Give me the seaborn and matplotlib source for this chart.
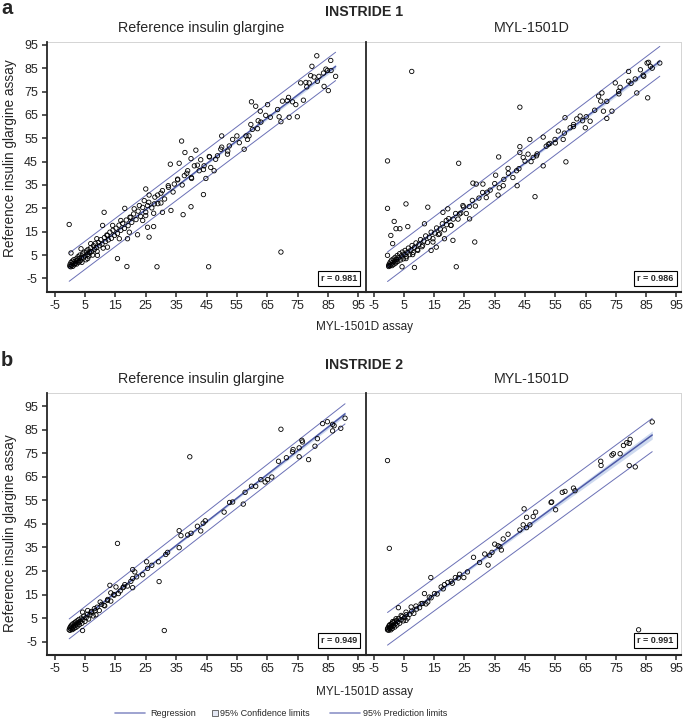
import numpy as np
import matplotlib
matplotlib.use("Agg")
import matplotlib.pyplot as plt
from matplotlib.lines import Line2D
from matplotlib.patches import Rectangle
import seaborn as sns

# points: (MYL-1501D assay, reference insulin glargine assay)
# INSTRIDE 1 - reference insulin glargine
a1_pts = [(81.3,90.3),(85.9,88.3),(79.7,85.8),(84.3,84.6),(84.8,84.0),(83.5,82.9),(79.3,81.8),(80.4,81.2),
    (87.5,81.5),(77.7,78.9),(78.8,78.7),(76.0,78.7),(83.7,77.2),(85.1,75.4),(81.5,79.4),
    (59.8,70.6),(65.1,69.4),(70.0,70.9),(73.3,70.6),(71.6,71.1),(74.4,69.4),(76.9,71.3),(68.4,67.3),
    (61.2,68.7),(62.7,66.6),(64.5,64.8),(68.9,64.2),(69.5,62.1),(72.2,64.0),(74.9,64.2),(62.9,61.9),
    (59.6,60.9),(60.1,58.8),(61.8,59.1),(59.0,56.0),(58.5,54.5),(57.4,50.3),(55.8,53.1),(53.6,54.5),
    (50.0,56.0),(52.5,51.7),(49.7,50.3),(51.9,48.2),(48.6,47.5),(45.9,47.2),(43.1,45.8),(41.5,49.9),
    (36.8,53.8),(37.9,48.9),(39.9,46.3),(36.0,44.3),(33.1,43.9),(41.0,43.2),(44.2,43.2),(46.4,42.5),
    (47.5,41.1),(42.6,41.1),(38.8,41.1),(37.7,39.0),(35.5,37.5),(34.4,35.4),(40.1,37.8),(44.8,37.8),
    (30.5,32.6),(32.4,34.7),(25.0,33.3),(26.1,30.7),(28.9,30.7),(27.8,26.9),(30.0,27.3),(24.5,28.3),
    (25.6,26.2),(22.9,26.2),(21.2,24.8),(18.1,25.0),(33.3,24.1),(30.5,23.3),(27.6,22.9),(44.0,30.9),
    (39.9,25.7),(37.3,22.3),(11.3,23.3),(10.8,17.7),(14.1,17.7),(16.8,19.8),(20.1,21.2),(24.0,19.8),
    (25.0,21.9),(27.6,17.2),(25.6,16.9),(26.1,12.7),(22.3,13.7),(19.6,14.8),(19.0,12.0),(16.3,12.0),
    (12.4,13.4),(8.9,12.0),(6.9,9.9),(0.4,5.9),(3.7,7.7),(6.4,6.3),(9.1,4.9),(12.4,8.4),(15.7,3.5),
    (18.8,0.1),(28.7,0.0),(45.7,0.0),(69.5,6.3),(-0.2,18.1),(5.9,3.5),(3.1,2.1),
    (0.0,0.3),(0.1,1.0),(0.3,0.0),(0.4,1.8),(0.6,0.6),(0.8,2.4),(1.0,0.2),(1.1,1.4),(1.3,3.0),(1.5,0.9),
    (1.7,2.2),(1.9,1.5),(2.1,3.4),(2.3,1.2),(2.5,2.8),(2.7,4.3),(2.9,2.0),(3.1,3.6),(3.3,5.0),(3.5,2.6),
    (3.8,4.0),(4.0,1.9),(4.2,5.5),(4.5,3.8),(4.7,6.2),(5.0,4.6),(5.3,3.0),(5.5,6.8),(5.8,5.2),(6.0,7.4),
    (6.3,4.6),(6.6,6.0),(6.9,8.2),(7.2,6.5),(7.5,5.0),(7.8,9.0),(8.1,7.4),(8.4,10.0),(8.7,8.2),(9.0,6.6),
    (9.4,10.4),(9.8,9.0),(10.2,11.6),(10.6,9.6),(11.0,8.0),(11.4,12.5),(11.8,10.8),(12.2,13.6),(12.7,11.5),
    (13.2,14.8),(13.7,12.2),(14.2,15.6),(14.7,13.4),(15.2,16.5),(15.7,14.2),(16.2,17.8),(16.8,15.6),
    (17.4,18.6),(18.0,16.4),(18.6,20.0),(19.2,17.6),(19.8,21.2),(20.4,19.0),(21.0,22.6),(21.8,20.2),
    (22.5,23.8),(23.3,21.6),(24.0,25.4),(25.0,23.4),(26.0,27.6),(27.0,25.2),(28.0,29.8),(29.0,27.0),
    (30.0,31.5),(31.2,29.0),(32.5,34.0),(34.0,32.0),(35.5,37.2),(37.0,35.0),(38.5,40.0),(40.0,38.2),
    (42.0,43.5),(44.0,41.6),(46.0,47.0),(48.0,46.0),(50.0,51.2),(52.0,49.5),(55.0,56.0),(58.0,56.0),
    (62.0,62.5),(66.0,64.0),(72.0,72.5),(78.0,77.0),(82.0,81.5),(86.0,84.0)]

# INSTRIDE 1 - MYL-1501D
a2_pts = [(7.6,83.6),(-0.4,45.3),(-0.4,25.0),(5.7,26.9),(12.9,25.5),(1.8,19.4),(2.4,16.3),(3.7,16.3),
    (6.3,17.2),(11.8,18.4),(17.9,23.3),(19.5,24.8),(23.1,44.3),(36.3,47.0),(43.3,68.3),(48.3,30.0),
    (58.5,44.9),(51.0,43.2),(28.4,10.6),(21.2,11.3),(22.3,0.0),(8.5,-0.3),(4.4,0.0),(14.0,7.0),(15.7,8.4),
    (26.7,20.5),(27.8,35.8),(28.9,35.4),(31.1,35.4),(32.5,31.9),(36.1,30.7),(35.3,39.2),(37.8,34.7),
    (39.4,42.1),(42.2,41.1),(42.4,34.7),(43.3,51.4),(43.3,48.9),(44.4,46.8),(46.0,48.2),(46.6,54.5),
    (47.7,46.8),(51.0,55.5),(52.7,52.4),(53.2,52.8),(54.9,54.5),(56.0,58.1),(57.6,54.5),(58.2,63.8),
    (59.9,59.5),(61.0,60.9),(62.1,63.3),(63.2,64.5),(64.9,59.5),(65.2,64.2),(66.5,62.3),(70.4,74.4),
    (70.0,70.9),(70.9,66.6),(73.7,66.6),(72.0,63.5),(69.3,73.0),(74.8,78.7),(75.9,75.1),(76.4,76.8),
    (79.2,83.6),(79.2,79.4),(81.4,80.4),(81.9,74.4),(83.1,84.3),(84.2,81.5),(85.3,87.2),(85.8,87.5),
    (86.4,85.8),(89.5,87.2),(85.5,72.3),(48.8,47.5),(24.5,26.2),(23.4,22.6),(19.0,19.8),(20.6,17.7),
    (16.8,14.1),(18.4,12.0),(14.6,10.6),(11.2,9.2),(9.6,7.0),(7.9,5.2),(5.7,3.5),(2.4,2.1),(1.3,9.9),
    (0.7,13.4),(-0.4,4.9),(0.0,0.6),
    (0.0,0.1),(0.2,1.2),(0.4,0.4),(0.5,2.0),(0.7,0.9),(0.9,2.8),(1.1,0.5),(1.3,1.7),(1.5,3.3),(1.7,1.1),
    (1.9,2.5),(2.1,4.0),(2.3,1.6),(2.6,3.2),(2.8,4.8),(3.0,2.3),(3.3,3.9),(3.6,5.6),(3.9,2.9),(4.2,4.6),
    (4.5,6.3),(4.8,3.4),(5.1,5.3),(5.4,7.0),(5.8,4.3),(6.1,6.1),(6.5,8.0),(6.9,5.2),(7.3,7.2),(7.7,9.1),
    (8.1,6.1),(8.5,8.3),(9.0,10.2),(9.5,7.4),(10.0,9.6),(10.5,11.6),(11.0,8.6),(11.6,11.0),(12.2,13.2),
    (12.8,10.4),(13.4,12.6),(14.0,14.8),(14.6,12.0),(15.2,14.4),(15.8,16.6),(16.4,13.8),(17.0,16.2),
    (17.7,18.4),(18.4,15.8),(19.1,18.0),(19.8,20.6),(20.5,17.8),(21.3,20.4),(22.1,22.8),(22.9,20.4),
    (23.8,23.0),(24.7,25.6),(25.6,22.8),(26.6,25.8),(27.6,28.4),(28.6,26.0),(29.8,29.4),(31.0,31.8),
    (32.2,29.6),(33.5,32.8),(35.0,35.6),(36.5,33.8),(38.0,37.4),(39.5,40.0),(41.0,38.2),(43.0,42.0),
    (45.0,45.2),(47.0,45.0),(49.0,48.3),(52.0,51.6),(55.0,53.0),(58.0,57.2),(61.0,60.0),(64.0,62.5),
    (68.0,67.0),(72.0,70.8),(76.0,74.0),(80.0,78.5),(84.0,82.0),(87.0,85.0)]

# INSTRIDE 2 - reference insulin glargine
b1_pts = [(69.5,85.2),(39.5,73.5),(15.7,36.7),(29.4,20.5),(31.1,-0.3),(4.2,-0.3),(83.2,87.6),(84.8,88.4),
    (86.5,87.3),(87.0,86.7),(90.6,89.9),(89.2,85.6),(86.5,84.5),(81.5,81.2),(80.7,78.0),(78.6,72.3),
    (76.4,80.5),(76.6,79.8),(75.5,77.3),(73.5,76.6),(73.3,75.6),(75.5,73.5),(71.3,73.1),(68.7,71.6),
    (66.5,64.9),(64.3,62.8),(65.1,63.8),(62.9,63.8),(61.2,61.0),(59.8,61.0),(57.7,58.4),(57.1,53.4),
    (53.6,54.3),(52.6,54.1),(50.8,50.0),(44.6,46.3),(43.9,45.3),(42.0,44.0),(43.1,42.0),(39.9,41.0),
    (38.8,40.3),(36.6,40.0),(36.0,42.1),(36.0,34.9),(32.2,32.9),(31.6,32.0),(29.2,28.9),(25.3,28.9),
    (25.6,26.1),(20.7,25.6),(21.4,24.6),(20.7,21.8),(20.1,20.6),(20.7,17.9),(18.1,19.2),(17.7,18.2),
    (16.6,16.5),(15.2,18.2),(13.2,18.9),(13.5,15.7),(14.6,14.7),(12.4,12.5),(10.0,11.8),(11.3,10.4),
    (8.6,6.4),(5.9,8.2),(4.2,7.5),(7.0,7.5),(8.1,9.0),
    (-0.2,0.0),(0.0,0.8),(0.1,-0.2),(0.3,1.5),(0.4,0.4),(0.6,2.0),(0.7,0.9),(0.9,0.1),(1.0,2.5),(1.2,1.3),
    (1.4,0.6),(1.5,2.9),(1.7,1.8),(1.9,3.3),(2.0,1.0),(2.2,2.4),(2.4,3.8),(2.6,1.6),(2.8,3.0),(3.0,4.4),
    (3.2,2.2),(3.5,3.6),(3.8,5.0),(4.0,2.8),(4.3,4.3),(4.6,5.8),(5.0,3.6),(5.4,5.2),(5.8,6.6),(6.2,4.6),
    (6.7,6.4),(7.2,7.8),(7.7,5.9),(8.3,8.0),(9.0,9.6),(9.7,8.2),(10.5,10.8),(11.5,10.2),(12.5,12.9),
    (13.5,12.2),(14.5,15.0),(16.0,15.4),(17.5,17.9),(19.0,18.6),(22.0,22.5),(24.0,23.4),(27.0,27.4)]

# INSTRIDE 2 - MYL-1501D
b2_pts = [(-0.4,71.9),(0.2,34.6),(82.5,0.0),(87.0,88.3),(79.7,80.9),(78.6,79.5),(77.5,78.3),(79.4,79.2),
    (76.4,74.8),(74.2,74.8),(73.7,74.2),(70.0,71.6),(70.1,69.8),(79.4,69.8),(81.4,69.2),(61.0,60.2),
    (61.5,59.1),(58.2,58.8),(57.3,58.4),(53.8,54.3),(53.6,54.1),(55.1,51.0),(44.7,51.4),(45.5,47.8),
    (47.7,48.1),(48.5,50.0),(44.4,44.6),(45.5,43.4),(46.6,44.6),(43.3,42.4),(39.4,40.6),(37.8,38.6),
    (35.0,36.4),(36.1,35.7),(36.7,35.3),(37.2,33.9),(34.1,32.9),(31.7,32.2),(33.3,31.7),(32.8,27.5),
    (28.0,30.8),(23.4,23.6),(24.8,22.2),(22.0,22.2),(20.6,20.6),(19.5,20.1),(18.4,19.2),(17.3,18.2),
    (13.9,22.2),(15.1,15.4),(13.4,13.9),(11.8,15.4),(12.9,11.8),(10.7,11.1),(9.0,10.1),(7.4,9.7),
    (5.7,7.5),(3.2,9.4),(4.1,6.1),(2.4,4.7),(1.3,3.5),(0.2,1.8),(-0.4,0.4),(5.7,4.0),
    (-0.4,0.0),(-0.2,0.9),(0.0,-0.2),(0.1,1.6),(0.3,0.5),(0.4,2.2),(0.6,1.0),(0.7,0.0),(0.9,2.6),(1.0,1.4),
    (1.2,0.6),(1.4,3.0),(1.6,1.8),(1.8,3.6),(2.0,1.2),(2.2,2.6),(2.5,4.0),(2.7,2.0),(3.0,3.4),(3.3,4.8),
    (3.6,2.8),(4.0,4.2),(4.4,5.6),(4.8,3.8),(5.2,5.2),(5.8,6.4),(6.3,5.0),(6.9,6.6),(7.6,7.9),(8.3,7.0),
    (9.2,8.8),(10.2,9.4),(11.2,11.2),(12.3,11.0),(14.0,13.6),(16.0,15.2),(18.0,17.4),(21.0,19.8),
    (23.0,22.0),(26.0,24.6),(30.0,28.6)]

# fitted lines
fit_intercept = [0.0, 0.4, 0.6, 0.8]
fit_slope = [0.98, 0.978, 1.006, 0.942]
pred_half = [6.0, 6.3, 4.2, 6.9]   # half width of the 95% prediction limits
r_values = ["0.981", "0.986", "0.949", "0.991"]

trials = ["INSTRIDE 1", "INSTRIDE 2"]
products = ["Reference insulin glargine", "MYL-1501D"]
ticks = list(range(-5, 100, 10))

sns.set_style("ticks")
plt.rcParams["font.family"] = ["Liberation Sans", "DejaVu Sans"]

W, H = 685, 720
fig = plt.figure(figsize=(W / 100, H / 100), dpi=100)

reg_col = "#4e5aa8"
pred_col = "#6a70b6"
band_col = "#c9d6ee"

def px_ax(x0, x1, top, bottom):
    return fig.add_axes([x0 / W, 1 - bottom / H, (x1 - x0) / W, (bottom - top) / H])

rows = [(42, 292, (-10.8, 96.2)), (393, 655, (-10.7, 100.6))]
cols = [(47, 366, (-7.5, 97.5)), (366, 681, (-7.5, 96.5))]
title_x = [201, 532]
all_pts = [a1_pts, a2_pts, b1_pts, b2_pts]

k = 0
for r, (top, bottom, ylim) in enumerate(rows):
    for c, (x0, x1, xlim) in enumerate(cols):
        ax = px_ax(x0, x1, top, bottom)
        pts = np.array(all_pts[k])
        x, y = pts[:, 0], pts[:, 1]

        # line + bands
        xs = np.linspace(x.min(), x.max(), 200)
        yhat = fit_intercept[k] + fit_slope[k] * xs
        lev = 1 / len(x) + (xs - x.mean()) ** 2 / ((x - x.mean()) ** 2).sum()
        ci = pred_half[k] * np.sqrt(lev)
        pi = pred_half[k] * np.sqrt(1 + lev) / np.sqrt(1 + 1 / len(x))
        ax.fill_between(xs, yhat - ci, yhat + ci, color=band_col, lw=0, alpha=0.9, zorder=1)
        sns.scatterplot(x=x, y=y, ax=ax, marker="o", s=10, facecolors="none",
                        edgecolor="black", linewidth=0.6, zorder=3)
        ax.plot(xs, yhat, color=reg_col, lw=1.1, zorder=2)
        ax.plot(xs, yhat + pi, color=pred_col, lw=0.7, zorder=2)
        ax.plot(xs, yhat - pi, color=pred_col, lw=0.7, zorder=2)

        ax.set_xlim(xlim)
        ax.set_ylim(ylim)
        ax.set_xticks(ticks)
        ax.set_xticklabels([str(t) for t in ticks], fontsize=9)
        ax.tick_params(axis="x", direction="out", length=3.6, width=1.1, pad=2.5)
        if c == 0:
            ax.set_yticks(ticks)
            ax.set_yticklabels([str(t) for t in ticks], fontsize=9)
            ax.tick_params(axis="y", direction="out", length=3.6, width=1.1, pad=3)
        else:
            ax.set_yticks([])
        for s in ["top", "right"]:
            ax.spines[s].set_color("#d4d4d4")
            ax.spines[s].set_linewidth(0.7)
        ax.spines["left"].set_linewidth(1.3)
        ax.spines["bottom"].set_linewidth(1.5)
        ax.spines["left"].set_zorder(5)

        ax.text(0.972 if c == 0 else 0.977, 0.037 if r == 0 else 0.039, "r = " + r_values[k],
                transform=ax.transAxes, ha="right", va="bottom", fontsize=6.5, fontweight="bold",
                bbox=dict(boxstyle="square,pad=0.35", fc="white", ec="black", lw=0.8), zorder=6)

        fig.text(title_x[c] / W, 1 - (top - 14) / H, products[c],
                 ha="center", va="center", fontsize=10.3)
        k += 1

    # row labels and titles
    fig.text(364 / W, 1 - (12 if r == 0 else 365) / H, trials[r],
             ha="center", va="center", fontsize=10.2, fontweight="bold")
    fig.text(1 / W, 1 - (9 if r == 0 else 360) / H, "ab"[r],
             ha="left", va="center", fontsize=14.5, fontweight="bold")
    fig.text(365 / W, 1 - (327 if r == 0 else 692) / H, "MYL-1501D assay",
             ha="center", va="center", fontsize=8.5)
    fig.text(10 / W, 1 - (158 if r == 0 else 533) / H, "Reference insulin glargine assay",
             ha="center", va="center", rotation=90, fontsize=9.8)

# legend row at the bottom
ly = 1 - 713 / H
fig.add_artist(Line2D([115 / W, 145 / W], [ly, ly], color="#8e94c8", lw=1.2, transform=fig.transFigure))
fig.text(150 / W, ly, "Regression", ha="left", va="center", fontsize=6.5)
fig.add_artist(Rectangle((212 / W, ly - 3 / H), 6 / W, 6 / H, transform=fig.transFigure,
                         fc="#e4e8f4", ec="#555555", lw=0.6))
fig.text(220 / W, ly, "95% Confidence limits", ha="left", va="center", fontsize=6.5)
fig.add_artist(Line2D([330 / W, 360 / W], [ly, ly], color="#8e94c8", lw=1.2, transform=fig.transFigure))
fig.text(363 / W, ly, "95% Prediction limits", ha="left", va="center", fontsize=6.5)

fig.savefig("out.png", dpi=100)
